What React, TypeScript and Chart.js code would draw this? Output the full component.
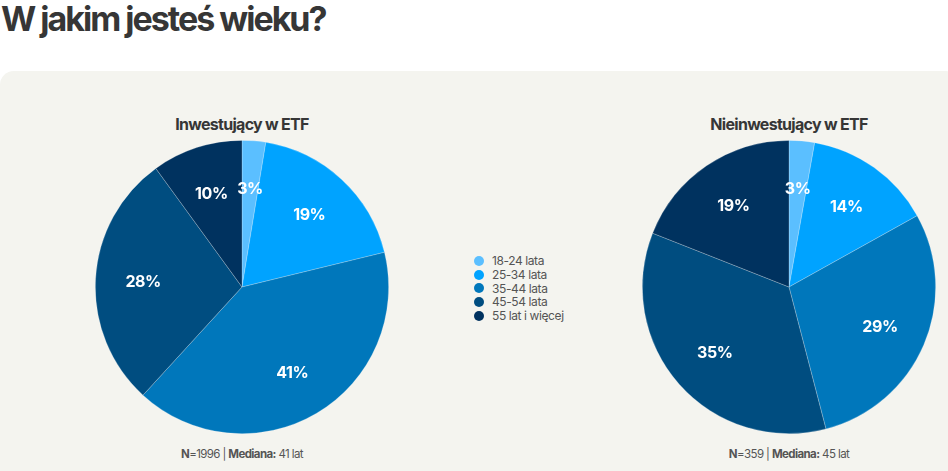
import { useEffect, useRef } from 'react';
import { Chart, registerables, Plugin } from 'chart.js';

Chart.register(...registerables);

const ageGroups = ['18-24 lata', '25-34 lata', '35-44 lata', '45-54 lata', '55 lat i więcej'];
// shares (labels show them rounded)
const investorsShare = [2.6, 18.6, 40.6, 28.2, 10.0];
const nonInvestorsShare = [2.8, 14.1, 29.0, 35.0, 19.0];
const sliceColors = ['#5bbfff', '#00a3ff', '#0077bb', '#004d80', '#00325f'];

const FONT = 'Inter, "Noto Sans", sans-serif';

// draws the percentage inside every slice, about 2/3 of the way out
const sliceLabels: Plugin<'pie'> = {
  id: 'sliceLabels',
  afterDatasetsDraw(chart) {
    const ctx = chart.ctx;
    const meta = chart.getDatasetMeta(0);
    const values = chart.data.datasets[0].data as number[];
    ctx.save();
    ctx.fillStyle = '#ffffff';
    ctx.font = `700 16px ${FONT}`;
    (ctx as any).letterSpacing = '-0.4px';
    ctx.textAlign = 'center';
    ctx.textBaseline = 'middle';
    meta.data.forEach((el: any, i) => {
      const { x, y, startAngle, endAngle, outerRadius } = el.getProps(
        ['x', 'y', 'startAngle', 'endAngle', 'outerRadius'],
        true
      );
      const mid = (startAngle + endAngle) / 2;
      const r = outerRadius * 0.675;
      ctx.fillText(`${Math.round(values[i])}%`, x + Math.cos(mid) * r, y + Math.sin(mid) * r + 1);
    });
    ctx.restore();
  },
};

function AgePie({ values }: { values: number[] }) {
  const canvasRef = useRef<HTMLCanvasElement | null>(null);
  const chartRef = useRef<Chart<'pie'> | null>(null);

  useEffect(() => {
    if (!canvasRef.current) return;
    if (chartRef.current) chartRef.current.destroy();

    chartRef.current = new Chart(canvasRef.current, {
      type: 'pie',
      data: {
        labels: ageGroups,
        datasets: [
          {
            data: values,
            backgroundColor: sliceColors,
            borderColor: 'rgba(255,255,255,0.3)',
            borderWidth: 0.75,
          },
        ],
      },
      options: {
        responsive: false,
        animation: false,
        layout: { padding: 3 },
        plugins: {
          legend: { display: false },
          tooltip: { enabled: false },
        },
      },
      plugins: [sliceLabels],
    });

    return () => {
      chartRef.current?.destroy();
      chartRef.current = null;
    };
  }, [values]);

  return <canvas ref={canvasRef} width={300} height={300} />;
}

const textGrey = '#555555';

const pieTitle = {
  position: 'absolute' as const,
  top: 114,
  width: 300,
  textAlign: 'center' as const,
  fontSize: 16,
  fontWeight: 700,
  letterSpacing: '-0.7px',
  color: '#363636',
};

const captionStyle = {
  position: 'absolute' as const,
  top: 447,
  width: 300,
  textAlign: 'center' as const,
  fontSize: 11.5,
  letterSpacing: '-0.6px',
  color: textGrey,
};

export default function App() {
  const caption = (n: number, median: number) => (
    <>
      <b>N</b>={n} | <b>Mediana:</b> {median} lat
    </>
  );

  return (
    <div
      style={{
        position: 'fixed',
        left: 0,
        top: 0,
        width: 948,
        height: 471,
        background: '#ffffff',
        overflow: 'hidden',
        fontFamily: FONT,
      }}
    >
      <div
        style={{
          position: 'absolute',
          left: 1,
          top: -2,
          fontSize: 34,
          fontWeight: 700,
          letterSpacing: '-2px',
          color: '#363636',
        }}
      >
        W jakim jesteś wieku?
      </div>

      <div
        style={{
          position: 'absolute',
          left: 0,
          top: 71,
          width: 960,
          height: 420,
          background: '#f4f4ef',
          borderRadius: 14,
        }}
      />

      {/* left pie */}
      <div style={{ ...pieTitle, left: 92 }}>Inwestujący w ETF</div>
      <div style={{ position: 'absolute', left: 92, top: 137 }}>
        <AgePie values={investorsShare} />
      </div>
      <div style={{ ...captionStyle, left: 92 }}>{caption(1996, 41)}</div>

      {/* right pie */}
      <div style={{ ...pieTitle, left: 639 }}>Nieinwestujący w ETF</div>
      <div style={{ position: 'absolute', left: 639, top: 137 }}>
        <AgePie values={nonInvestorsShare} />
      </div>
      <div style={{ ...captionStyle, left: 639 }}>{caption(359, 45)}</div>

      {/* shared legend */}
      <div style={{ position: 'absolute', left: 474, top: 254 }}>
        {ageGroups.map((label, i) => (
          <div key={label} style={{ display: 'flex', alignItems: 'center', height: 13.7, fontSize: 12, letterSpacing: '-0.4px', color: textGrey }}>
            <span
              style={{
                display: 'inline-block',
                width: 10,
                height: 10,
                borderRadius: '50%',
                background: sliceColors[i],
                marginRight: 8,
              }}
            />
            {label}
          </div>
        ))}
      </div>
    </div>
  );
}
